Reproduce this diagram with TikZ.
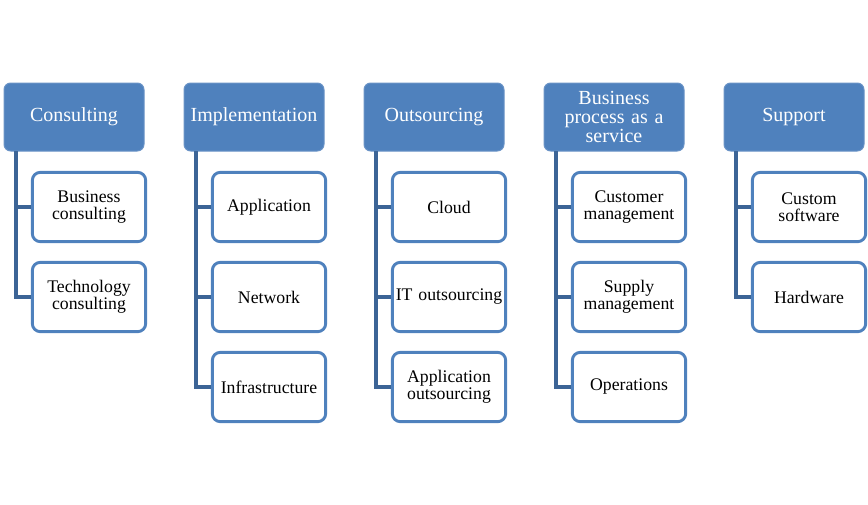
\documentclass[tikz,border=0pt]{standalone}
\usepackage{fontspec}
\setmainfont{Liberation Serif}
\definecolor{hdr}{HTML}{4F81BD}
\definecolor{hdrline}{HTML}{6A93C6}
\definecolor{cline}{HTML}{3C6496}
\begin{document}
\begin{tikzpicture}[x=0.75pt,y=-0.75pt,
  header/.style={draw=hdrline,line width=0.75pt,fill=hdr,rounded corners=5pt,minimum width=105pt,minimum height=51pt,text width=104pt,align=center,text=white,font=\fontsize{15}{14.6}\selectfont,inner sep=0pt},
  child/.style={draw=hdr,line width=2.2pt,fill=white,rounded corners=6pt,minimum width=85pt,minimum height=52pt,text width=84pt,align=center,font=\fontsize{13.3}{12.8}\selectfont,inner sep=0pt},
  conn/.style={draw=cline,line width=2.4pt}]
\useasboundingbox (0,0) rectangle (868,504);
% headers
\node[header] (h0) at (74,117) {Consulting};
\node[header] (h1) at (254,117) {Implementation};
\node[header] (h2) at (434,117) {Outsourcing};
\node[header] (h3) at (614,117) {Business\\process as a\\service};
\node[header] (h4) at (794,117) {Support};
% trunk start coordinates
\coordinate (t0) at (16,151);
\coordinate (t1) at (196,151);
\coordinate (t2) at (376,151);
\coordinate (t3) at (556,151);
\coordinate (t4) at (736,151);
% children
\node[child] (c00) at (89,207) {Business\\consulting};
\node[child] (c01) at (89,297) {Technology\\consulting};
\node[child] (c10) at (269,207) {Application};
\node[child] (c11) at (269,297) {Network};
\node[child] (c12) at (269,387) {Infrastructure};
\node[child] (c20) at (449,207) {Cloud};
\node[child] (c21) at (449,297) {IT outsourcing};
\node[child] (c22) at (449,387) {Application\\outsourcing};
\node[child] (c30) at (629,207) {Customer\\management};
\node[child] (c31) at (629,297) {Supply\\management};
\node[child] (c32) at (629,387) {Operations};
\node[child] (c40) at (809,207) {Custom\\software};
\node[child] (c41) at (809,297) {Hardware};
% connectors
\draw[conn] (t0) |- (c00.west);
\draw[conn] (t0) |- (c01.west);
\draw[conn] (t1) |- (c10.west);
\draw[conn] (t1) |- (c11.west);
\draw[conn] (t1) |- (c12.west);
\draw[conn] (t2) |- (c20.west);
\draw[conn] (t2) |- (c21.west);
\draw[conn] (t2) |- (c22.west);
\draw[conn] (t3) |- (c30.west);
\draw[conn] (t3) |- (c31.west);
\draw[conn] (t3) |- (c32.west);
\draw[conn] (t4) |- (c40.west);
\draw[conn] (t4) |- (c41.west);
\end{tikzpicture}
\end{document}
